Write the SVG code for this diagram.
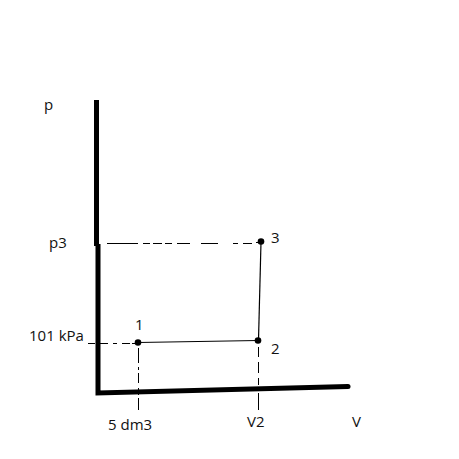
<svg xmlns="http://www.w3.org/2000/svg" width="459" height="459" viewBox="0 0 459 459">
<style>
.axis{stroke:#000;stroke-width:5;fill:none;stroke-linecap:butt}
.solid{stroke:#000;stroke-width:1.2;fill:none}
.dash{stroke:#000;stroke-width:1;fill:none}
.pt{fill:#000}
text{font-family:"Open Sans","DejaVu Sans",sans-serif;font-size:15px;fill:#111}
</style>
<rect width="459" height="459" fill="#fff"/>
<g id="axes">
<path class="axis" d="M96.5,100 L96.5,246"/>
<path class="axis" d="M98,244 L98,393 L348,386.5"/>
<circle cx="348" cy="386.5" r="2.5" class="pt"/>
</g>
<g id="connectors">
<path class="dash" d="M107,243.5H138 M143,243.5H150 M153,243.5H162 M165,243.5H172 M177,243.5H190 M201,243.5H218 M233,243.5H238 M243,243.5H252 M256,242.5H260"/>
<path class="dash" d="M88,343.5H95 M100,343.5H108 M113,343.5H117 M122,343.5H130 M132,343.5H136"/>
<path class="dash" d="M138.5,348V363 M138.5,367V370 M138.5,373V383 M138.5,388V395 M138.5,398V410"/>
<path class="dash" d="M258.5,347V357 M258.5,362V373 M258.5,378V385 M258.5,393V410"/>
<path class="solid" d="M138,342.5 L258,340.5"/>
<path class="solid" d="M261,242 L258.5,340"/>
</g>
<g id="node1"><circle cx="138" cy="342.5" r="3.3" class="pt"/><text x="135" y="330">1</text></g>
<g id="node2"><circle cx="258" cy="340.5" r="3.3" class="pt"/><text x="271" y="354">2</text></g>
<g id="node3"><circle cx="261" cy="241.5" r="3.3" class="pt"/><text x="271" y="243">3</text></g>
<g id="labels">
<text x="44" y="110">p</text>
<text x="49" y="248">p3</text>
<text x="29" y="341">101 kPa</text>
<text x="108" y="430">5 dm3</text>
<text x="247" y="427">V2</text>
<text x="352" y="427">V</text>
</g>
</svg>
